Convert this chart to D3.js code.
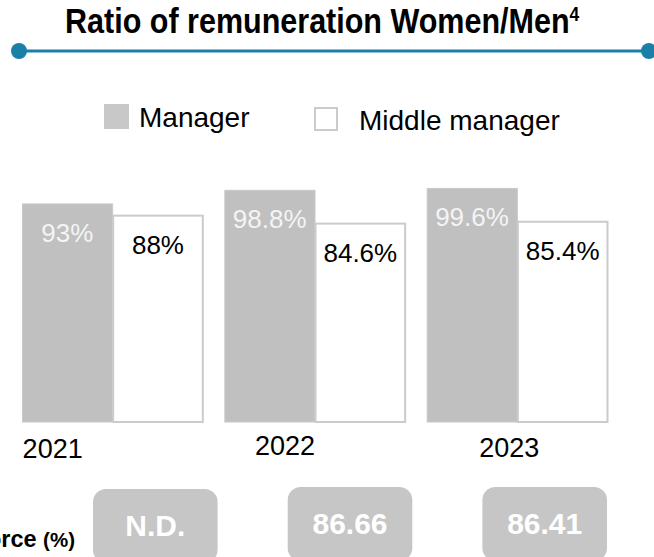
<!DOCTYPE html>
<html>
<head>
<meta charset="utf-8">
<script src="https://cdn.jsdelivr.net/npm/d3@7"></script>
<style>
  html, body { margin: 0; padding: 0; background: #ffffff; }
  svg { display: block; font-family: "Liberation Sans", Arial, sans-serif; }
</style>
</head>
<body>
<svg id="chart" width="654" height="557"></svg>
<script>
// Ratio of remuneration, women vs. men, by year and role
const years = ["2021", "2022", "2023"];
const series = ["Manager", "Middle manager"];
const managerRatio = [93, 98.8, 99.6];
const middleManagerRatio = [88, 84.6, 85.4];
const managerLabels = ["93%", "98.8%", "99.6%"];
const middleManagerLabels = ["88%", "84.6%", "85.4%"];
// Share of women in the workforce (%), null where not disclosed
const workforceShare = [null, 86.66, 86.41];

const W = 654, H = 557;
const svg = d3.select("#chart");

const grey = "#c0c0c0";
const edge = "#cbcbcb";
const accent = "#1a80a8";

// ---- Title with decorative rule (condensed bold face) ----
const titleGroup = svg.append("g").attr("transform", "translate(65,33) scale(0.872,1)");
const title = titleGroup.append("text")
  .attr("x", 0).attr("y", 0)
  .attr("font-size", 35).attr("font-weight", "bold").attr("fill", "#000");
title.append("tspan").text("Ratio of remuneration Women/Men");
title.append("tspan").attr("font-size", 20).attr("dy", -12).text("4");

svg.append("line")
  .attr("x1", 19).attr("x2", 649).attr("y1", 51).attr("y2", 51)
  .attr("stroke", accent).attr("stroke-width", 3);
svg.selectAll("circle.cap").data([19, 649]).join("circle")
  .attr("class", "cap").attr("cx", d => d).attr("cy", 51).attr("r", 8)
  .attr("fill", accent);

// ---- Legend ----
const legend = svg.append("g");
const legendItems = [
  { name: series[0], sx: 104, sy: 104, tx: 139, ty: 127, filled: true },
  { name: series[1], sx: 315, sy: 108, tx: 359, ty: 130, filled: false }
];
legendItems.forEach(it => {
  legend.append("rect")
    .attr("x", it.sx).attr("y", it.sy)
    .attr("width", it.filled ? 25 : 22).attr("height", it.filled ? 25 : 22)
    .attr("fill", it.filled ? "#c8c8c8" : "#fff")
    .attr("stroke", it.filled ? "none" : edge).attr("stroke-width", 2);
  legend.append("text")
    .attr("x", it.tx).attr("y", it.ty)
    .attr("font-size", 28).attr("fill", "#000")
    .text(it.name);
});

// ---- Grouped bars ----
const baseline = 422;
const x0 = d3.scaleBand().domain(years).range([22, 608]).paddingInner(0.104).paddingOuter(0);
const x1 = d3.scaleBand().domain(series).range([0, x0.bandwidth()]).padding(0);
const y = d3.scaleLinear().domain([0, 100]).range([baseline, 187.5]);

const rows = years.map((yr, i) => ({
  year: yr,
  bars: [
    { key: series[0], value: managerRatio[i], label: managerLabels[i] },
    { key: series[1], value: middleManagerRatio[i], label: middleManagerLabels[i] }
  ]
}));

const groups = svg.append("g").selectAll("g.year").data(rows).join("g")
  .attr("class", "year")
  .attr("transform", d => `translate(${x0(d.year)},0)`);

groups.selectAll("rect").data(d => d.bars).join("rect")
  .attr("x", d => x1(d.key) + 0.5)
  .attr("y", d => y(d.value))
  .attr("width", d => x1.bandwidth() - (d.key === series[1] ? 1 : 0.5))
  .attr("height", d => y(0) - y(d.value))
  .attr("fill", d => d.key === series[0] ? grey : "#fff")
  .attr("stroke", d => d.key === series[0] ? "#c9c9c9" : edge)
  .attr("stroke-width", d => d.key === series[0] ? 1 : 2);

groups.selectAll("text.val").data(d => d.bars).join("text")
  .attr("class", "val")
  .attr("x", d => x1(d.key) + x1.bandwidth() / 2)
  .attr("y", d => y(d.value) + 38)
  .attr("text-anchor", "middle")
  .attr("font-size", 26)
  .attr("fill", d => d.key === series[0] ? "#f4f4f4" : "#000")
  .text(d => d.label);

// ---- Year labels ----
const yearLabelShift = [-60, -30, -8];
const yearLabelBase = [458, 455, 457];
svg.append("g").selectAll("text").data(years).join("text")
  .attr("x", (d, i) => x0(d) + x0.bandwidth() / 2 + yearLabelShift[i])
  .attr("y", (d, i) => yearLabelBase[i])
  .attr("text-anchor", "middle")
  .attr("font-size", 27)
  .attr("fill", "#000")
  .text(d => d);

// ---- Women in workforce badges ----
const xb = d3.scaleBand().domain(years).range([93, 607]).paddingInner(0.36).paddingOuter(0);
const badges = svg.append("g").selectAll("g").data(years).join("g")
  .attr("transform", (d, i) => `translate(${xb(d)},${i === 0 ? 489 : 487})`);
badges.append("rect")
  .attr("width", xb.bandwidth()).attr("height", 74)
  .attr("rx", 13).attr("ry", 13)
  .attr("fill", "#c6c6c6");
badges.append("text")
  .attr("x", xb.bandwidth() / 2).attr("y", 47)
  .attr("text-anchor", "middle")
  .attr("font-size", 30).attr("font-weight", "bold").attr("fill", "#fff")
  .text((d, i) => workforceShare[i] === null ? "N.D." : workforceShare[i].toFixed(2));

const rowLabel = svg.append("text")
  .attr("x", 75).attr("y", 547)
  .attr("text-anchor", "end").attr("font-weight", "bold").attr("fill", "#000");
rowLabel.append("tspan").attr("font-size", 23.5).text("Women in workforce ");
rowLabel.append("tspan").attr("font-size", 20.5).text("(%)");
</script>
</body>
</html>
